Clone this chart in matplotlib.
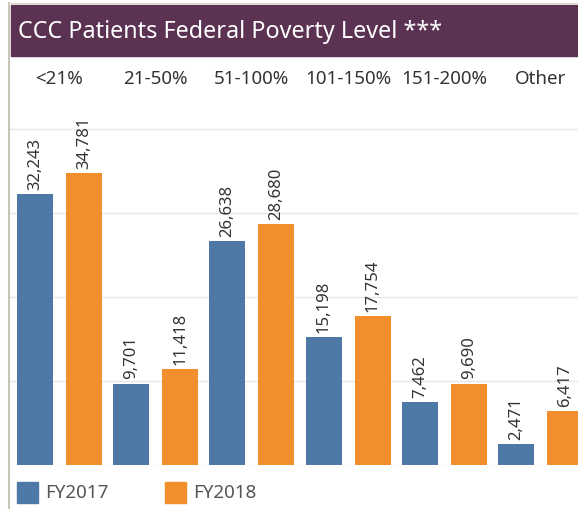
import matplotlib.pyplot as plt
from matplotlib.patches import Rectangle
import numpy as np

categories = ["<21%", "21-50%", "51-100%", "101-150%", "151-200%", "Other"]
fy2017 = [32243, 9701, 26638, 15198, 7462, 2471]
fy2018 = [34781, 11418, 28680, 17754, 9690, 6417]
title = "CCC Patients Federal Poverty Level ***"

blue = "#4e79a7"
orange = "#f28e2b"
W, H = 578, 509

plt.rcParams["font.family"] = ["Noto Sans", "DejaVu Sans"]
fig = plt.figure(figsize=(W / 100, H / 100), dpi=100)

def fx(px):
    return px / W

def fy(py):
    return 1 - py / H

# axes area in pixel terms
ax = fig.add_axes([fx(9), fy(465), fx(578) - fx(9), fy(100) - fy(465)])
x = np.arange(len(categories))
off = 0.255
bw = 0.374
ax.bar(x - off, fy2017, bw, color=blue, zorder=3)
ax.bar(x + off, fy2018, bw, color=orange, zorder=3)

for xi, v in zip(x - off, fy2017):
    ax.text(xi, v + 500, f"{v:,}", rotation=90, ha="center", va="bottom",
            fontsize=12, color="#333333")
for xi, v in zip(x + off, fy2018):
    ax.text(xi, v + 500, f"{v:,}", rotation=90, ha="center", va="bottom",
            fontsize=12, color="#333333", clip_on=False)

ax.set_xlim(-0.525, 5.39)
ax.set_ylim(0, 43500)
for g in [0, 10000, 20000, 30000, 40000]:
    ax.axhline(g, color="#e6e6e6", lw=1, zorder=1)
ax.set_xticks([])
ax.set_yticks([])
for s in ax.spines.values():
    s.set_visible(False)

# column headers
for i, c in enumerate(categories):
    px = 59.5 + 96.2 * i
    fig.text(fx(px), fy(79), c, ha="center", va="center", fontsize=13.5, color="#333333")

# title bar
fig.patches.append(Rectangle((fx(10.5), fy(56)), 1 - fx(10.5), fy(5) - fy(56),
                             transform=fig.transFigure, color="#5b3252", zorder=0))
fig.text(fx(18), fy(32.5), title, ha="left", va="center", fontsize=16.8, color="white")

# outer border lines
fig.add_artist(plt.Line2D([fx(8.5), fx(8.5)], [0, fy(3)], transform=fig.transFigure,
                          color="#c9c5b9", lw=1.5))
fig.add_artist(plt.Line2D([fx(8.5), 1], [fy(3), fy(3)], transform=fig.transFigure,
                          color="#dcd9d0", lw=1))

# legend
for px, lab, col in [(17, "FY2017", blue), (165, "FY2018", orange)]:
    fig.patches.append(Rectangle((fx(px), fy(503)), fx(21), fy(482) - fy(503),
                                 transform=fig.transFigure, color=col))
    fig.text(fx(px + 28), fy(493), lab, ha="left", va="center", fontsize=13.5, color="#555555")

fig.savefig("out.png", dpi=100)
